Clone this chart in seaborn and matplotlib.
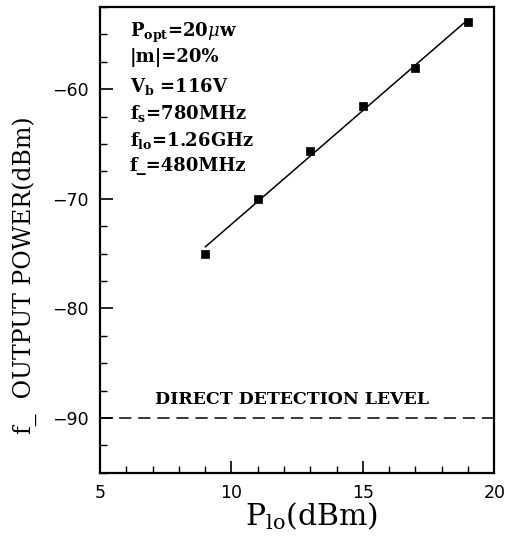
import matplotlib
matplotlib.use("Agg")
import matplotlib.pyplot as plt
import seaborn as sns
import pandas as pd
from matplotlib.ticker import MultipleLocator

# Data
p_lo = [9, 11, 13, 15, 17, 19]
out_power = [-75.0, -70.0, -65.6, -61.5, -58.1, -53.9]
direct_level = -90
x_ticks = [5, 10, 15, 20]
y_ticks = [-90, -80, -70, -60]
params = [r"$\mathbf{P_{opt}}$=20$\mu$w", "|m|=20%", r"$\mathbf{V_b}$ =116V",
          r"$\mathbf{f_s}$=780MHz", r"$\mathbf{f_{lo}}$=1.26GHz", "f_=480MHz"]

sns.set_style("ticks")
plt.rcParams["font.family"] = ["DejaVu Serif"]
plt.rcParams["mathtext.fontset"] = "dejavuserif"
for k in ["text.color", "axes.labelcolor", "xtick.color", "ytick.color", "axes.edgecolor"]:
    plt.rcParams[k] = "black"

df = pd.DataFrame({"p_lo": p_lo, "power": out_power})

fig = plt.figure(figsize=(5.08, 5.44), dpi=100)
ax = fig.add_axes([0.197, 0.131, 0.776, 0.856])

sns.regplot(data=df, x="p_lo", y="power", ci=None, ax=ax, color="black",
            marker="s", scatter_kws=dict(s=38, edgecolor="black", linewidths=0.5, alpha=1),
            line_kws=dict(lw=1.1))

ax.axhline(direct_level, color="black", lw=1.1, ls=(0, (8, 4.5)))
ax.text(12.3, direct_level + 0.9, "DIRECT DETECTION LEVEL", ha="center", va="bottom",
        fontsize=12.5, fontweight="bold")

for i, t in enumerate(params):
    ax.text(0.075, 0.970 - i * 0.0585, t, transform=ax.transAxes, ha="left", va="top",
            fontsize=13, fontweight="bold")

ax.set_xlim(5, 20)
ax.set_ylim(-95, -52.5)
ax.set_xticks(x_ticks)
ax.set_yticks(y_ticks)
ax.xaxis.set_minor_locator(MultipleLocator(1))
ax.yaxis.set_minor_locator(MultipleLocator(2.5))
ax.tick_params(which="major", direction="in", length=9, width=1.2, labelsize=12.5, pad=8)
ax.tick_params(which="minor", direction="in", length=5, width=1.0)
for lab in ax.get_xticklabels() + ax.get_yticklabels():
    lab.set_fontfamily("DejaVu Sans")
for s in ax.spines.values():
    s.set_visible(True)
    s.set_linewidth(1.6)

ax.set_xlabel(r"$\mathrm{P_{lo}}$(dBm)", fontsize=21.5)
ax.set_ylabel("f_  OUTPUT POWER(dBm)", fontsize=17)
ax.xaxis.set_label_coords(0.536, -0.060)
ax.yaxis.set_label_coords(-0.16, 0.425)

fig.savefig("out.png", dpi=100)
